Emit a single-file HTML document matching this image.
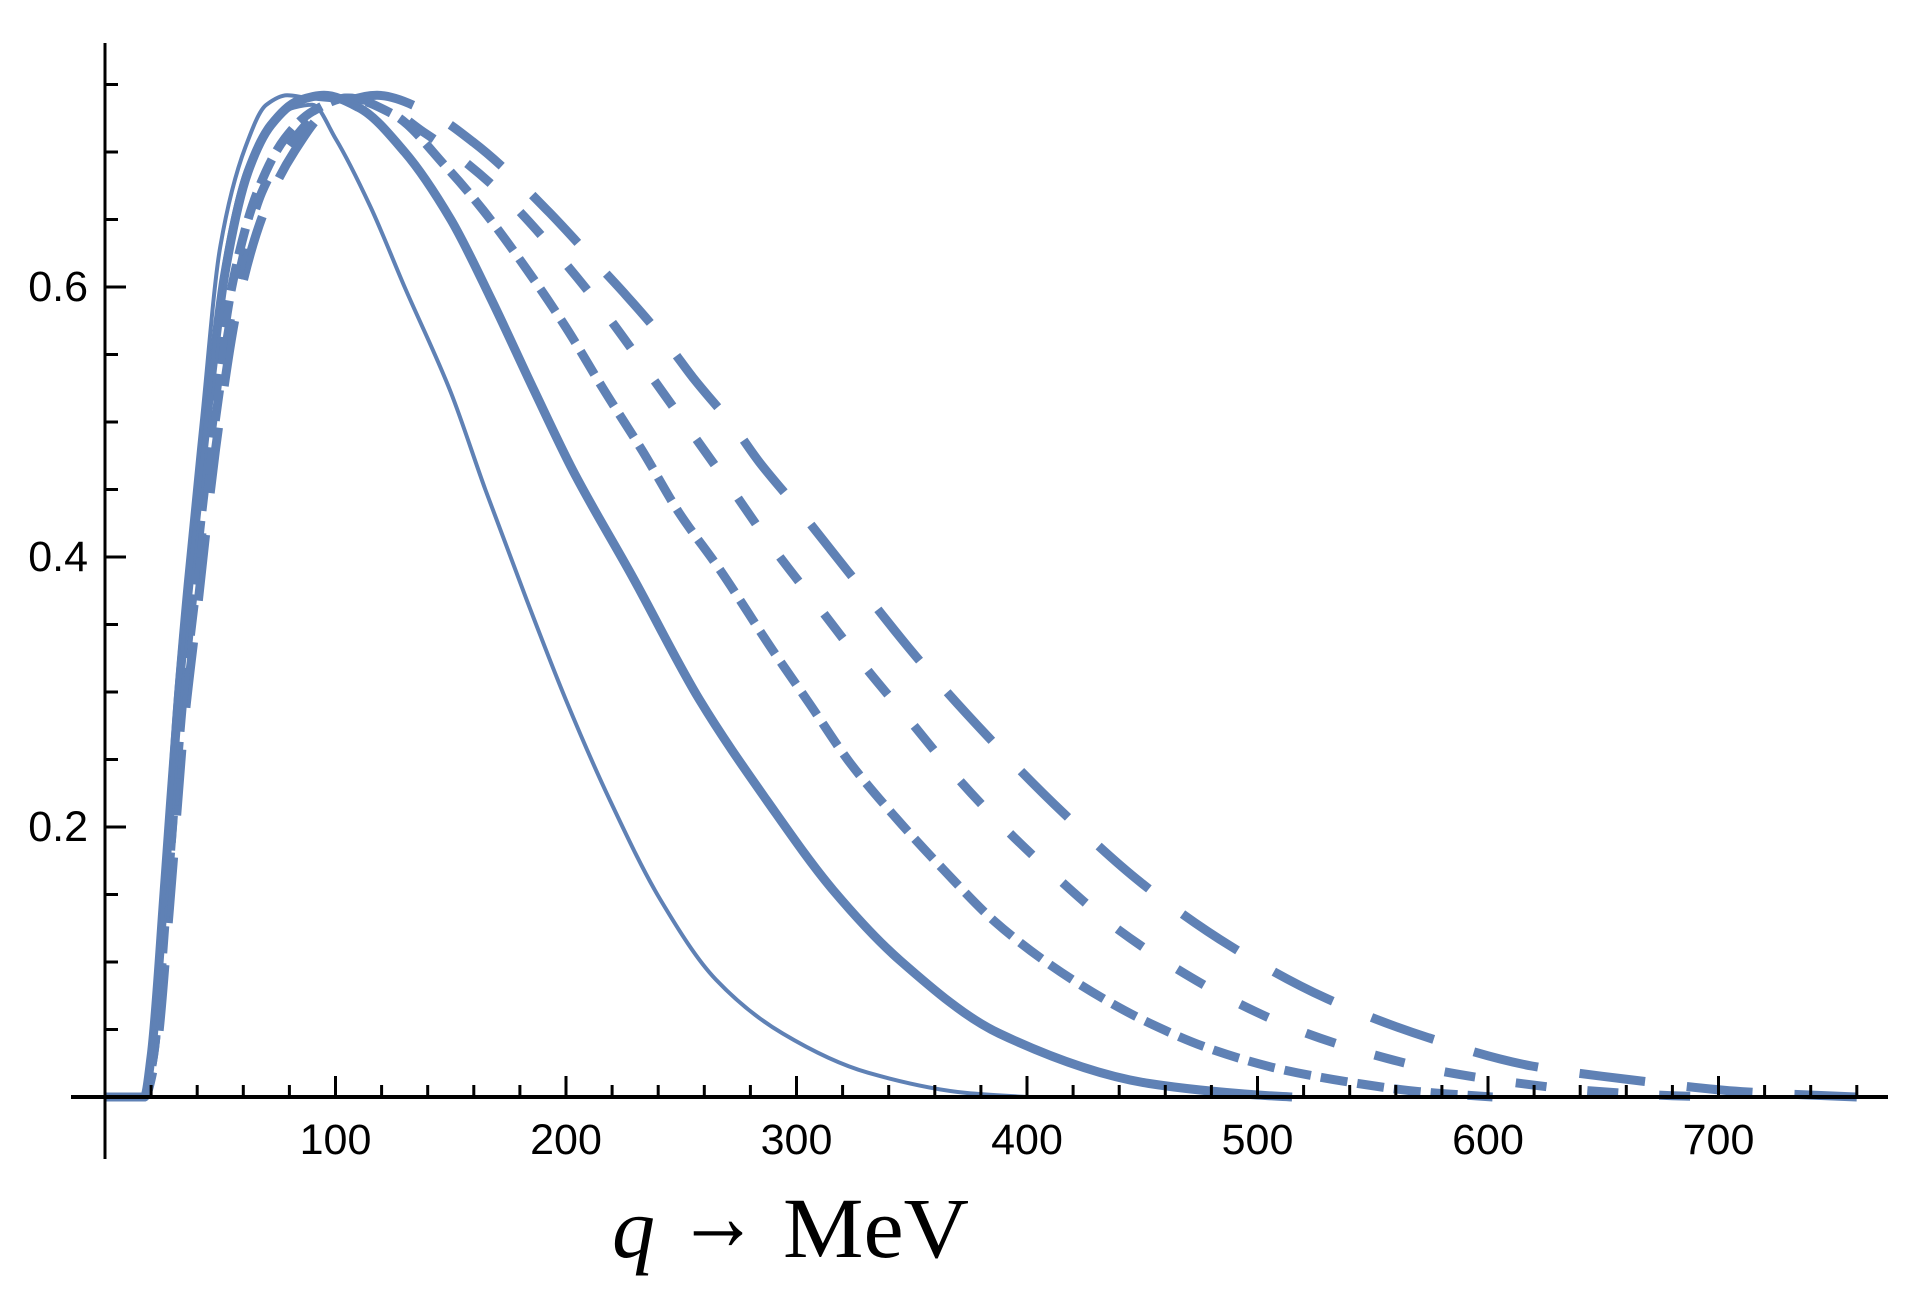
<!DOCTYPE html>
<html><head><meta charset="utf-8"><title>q distribution chart</title>
<style>
html,body{margin:0;padding:0;background:#fff;}
svg{display:block;}
.tick{font-family:"Liberation Sans",sans-serif;font-size:43px;fill:#000;}
</style></head>
<body>
<svg id="chart" width="1924" height="1297" viewBox="0 0 1924 1297" xmlns="http://www.w3.org/2000/svg">
  <g id="curves"></g>
  <g id="axes"></g>
  <g font-family="Liberation Serif, serif" font-size="86" fill="#000">
    <text x="612" y="1257" font-style="italic">q</text>
    <text x="677" y="1250" textLength="82" lengthAdjust="spacingAndGlyphs" font-size="100">→</text>
    <text x="783" y="1257" textLength="186" lengthAdjust="spacingAndGlyphs">MeV</text>
  </g>
</svg>
<script>
// ---- data ----
const xTickValues = [100,200,300,400,500,600,700];
const yTickValues = [0.2,0.4,0.6];
const leftQ = [0,17,20,25,30,35,42,50,61,70,79,88,100,110,130,150];
const leftV = [0,0,0.03,0.15,0.28,0.38,0.5,0.63,0.704,0.735,0.742,0.74,0.738,0.733,0.70,0.65];
const thinQ = [0,17,20,26,32,37,44,52,62,72,82,90,100,115,130,150,165,183,200,219,241,265,294,331,374,400];
const thinV = [0,0,0.03,0.16,0.3,0.39,0.5,0.62,0.69,0.72,0.733,0.735,0.71,0.66,0.6,0.522,0.45,0.368,0.294,0.22,0.146,0.087,0.047,0.018,0.003,0];
const thickQ = [0,17,20,26,32,37,44,52,62,72,84,95,110,130,150,167,186,203,229,258,287,316,345,388,453,500,515];
const thickV = [0,0,0.03,0.16,0.3,0.39,0.5,0.61,0.685,0.72,0.738,0.742,0.733,0.70,0.65,0.593,0.524,0.464,0.385,0.294,0.22,0.153,0.101,0.047,0.010,0.0015,0];
const shortQ = [0,17,21,27,33,38,46,55,66,78,90,105,125,148,164,183,200,216,233,249,267,290,305,323,343,364,386,410,434,454,479,509,540,570,602];
const shortV = [0,0,0.03,0.15,0.28,0.37,0.49,0.6,0.67,0.71,0.73,0.74,0.728,0.689,0.657,0.613,0.57,0.525,0.479,0.433,0.39,0.33,0.293,0.248,0.207,0.168,0.13,0.098,0.072,0.054,0.036,0.021,0.011,0.004,0];
const medQ = [0,17,21,27,33,39,47,57,68,80,92,105,120,138,153,174,196,216,234,252,270,288,311,330,350,370,391,414,438,464,491,520,549,580,610,641,680,700];
const medV = [0,0,0.03,0.15,0.28,0.37,0.49,0.6,0.67,0.705,0.728,0.74,0.735,0.715,0.697,0.666,0.625,0.583,0.541,0.498,0.455,0.411,0.36,0.318,0.277,0.236,0.198,0.161,0.126,0.096,0.07,0.048,0.032,0.019,0.011,0.005,0.001,0];
const longQ = [0,17,22,28,34,40,48,58,70,82,96,118,143,160,180,194,213,226,244,255,273,284,302,322,352,383,416,450,489,530,574,619,661,710,760];
const longV = [0,0,0.03,0.14,0.27,0.36,0.48,0.59,0.66,0.70,0.73,0.742,0.727,0.707,0.677,0.653,0.618,0.594,0.558,0.533,0.496,0.47,0.433,0.39,0.326,0.267,0.21,0.158,0.111,0.073,0.044,0.023,0.013,0.004,0];

// ---- scales ----
const X0 = 105, PX100 = 230.5, Y0 = 1097, PY1 = 1350;
const sx = q => X0 + q * PX100 / 100;
const sy = v => Y0 - v * PY1;
const NS = "http://www.w3.org/2000/svg";
const COLOR = "#5f81b5";

// monotone cubic (Fritsch-Carlson) in data space
function pathFrom(qs, vs) {
  const n = qs.length, d = [], m = [];
  for (let i = 0; i < n - 1; i++) d.push((vs[i + 1] - vs[i]) / (qs[i + 1] - qs[i]));
  m[0] = d[0]; m[n - 1] = d[n - 2];
  for (let i = 1; i < n - 1; i++) {
    if (d[i - 1] * d[i] <= 0) m[i] = 0;
    else {
      const h0 = qs[i] - qs[i - 1], h1 = qs[i + 1] - qs[i];
      const w1 = 2 * h1 + h0, w2 = h1 + 2 * h0;
      m[i] = (w1 + w2) / (w1 / d[i - 1] + w2 / d[i]);
    }
  }
  let s = "M" + sx(qs[0]).toFixed(1) + "," + sy(vs[0]).toFixed(1);
  for (let i = 0; i < n - 1; i++) {
    const h = qs[i + 1] - qs[i];
    const c1q = qs[i] + h / 3, c1v = vs[i] + m[i] * h / 3;
    const c2q = qs[i + 1] - h / 3, c2v = vs[i + 1] - m[i + 1] * h / 3;
    s += " C" + sx(c1q).toFixed(1) + "," + sy(c1v).toFixed(1) + " " + sx(c2q).toFixed(1) + "," + sy(c2v).toFixed(1) + " " + sx(qs[i + 1]).toFixed(1) + "," + sy(vs[i + 1]).toFixed(1);
  }
  return s;
}

const curves = document.getElementById("curves");
function addCurve(name, qs, vs, width, dash) {
  const el = document.createElementNS(NS, "path");
  el.setAttribute("d", pathFrom(qs, vs));
  el.setAttribute("fill", "none");
  el.setAttribute("stroke", COLOR);
  el.setAttribute("stroke-width", width);
  if (dash) el.setAttribute("stroke-dasharray", dash);
  
  
  curves.appendChild(el);
}
addCurve("series-long-dash", longQ, longV, 9, "66,42");
addCurve("series-medium-dash", medQ, medV, 9, "31,41");
addCurve("series-short-dash", shortQ, shortV, 9, "27,10");
addCurve("series-thick-solid", thickQ, thickV, 9, null);
addCurve("series-left-solid", leftQ, leftV, 4, null);
addCurve("series-thin-solid", thinQ, thinV, 4, null);

// ---- axes ----
const axes = document.getElementById("axes");
function line(name, x1, y1, x2, y2, w) {
  const el = document.createElementNS(NS, "line");
  el.setAttribute("x1", x1); el.setAttribute("y1", y1);
  el.setAttribute("x2", x2); el.setAttribute("y2", y2);
  el.setAttribute("stroke", "#000"); el.setAttribute("stroke-width", w);
  
  
  axes.appendChild(el);
}
function text(name, x, y, s, anchor) {
  const el = document.createElementNS(NS, "text");
  el.setAttribute("x", x); el.setAttribute("y", y);
  el.setAttribute("class", "tick");
  el.setAttribute("text-anchor", anchor);
  el.setAttribute("dominant-baseline", "central");
  el.textContent = s;
  
  
  axes.appendChild(el);
}
line("x-axis", 71, Y0, 1888, Y0, 4);
line("y-axis", X0, 43, X0, 1159, 3);
for (let q = 20; q <= 760; q += 20) {
  const major = q % 100 === 0;
  line("x-tick", sx(q), Y0, sx(q), Y0 - (major ? 21 : 12), 3);
}
for (let k = 1; k <= 15; k++) {
  const v = k * 0.05;
  const major = k % 4 === 0;
  line("y-tick", X0, sy(v), X0 + (major ? 21 : 13), sy(v), 3);
}
xTickValues.forEach(v => text("x-tick-label", sx(v), 1140, String(v), "middle"));
yTickValues.forEach(v => text("y-tick-label", 88, sy(v), v.toFixed(1), "end"));
</script>
</body></html>
